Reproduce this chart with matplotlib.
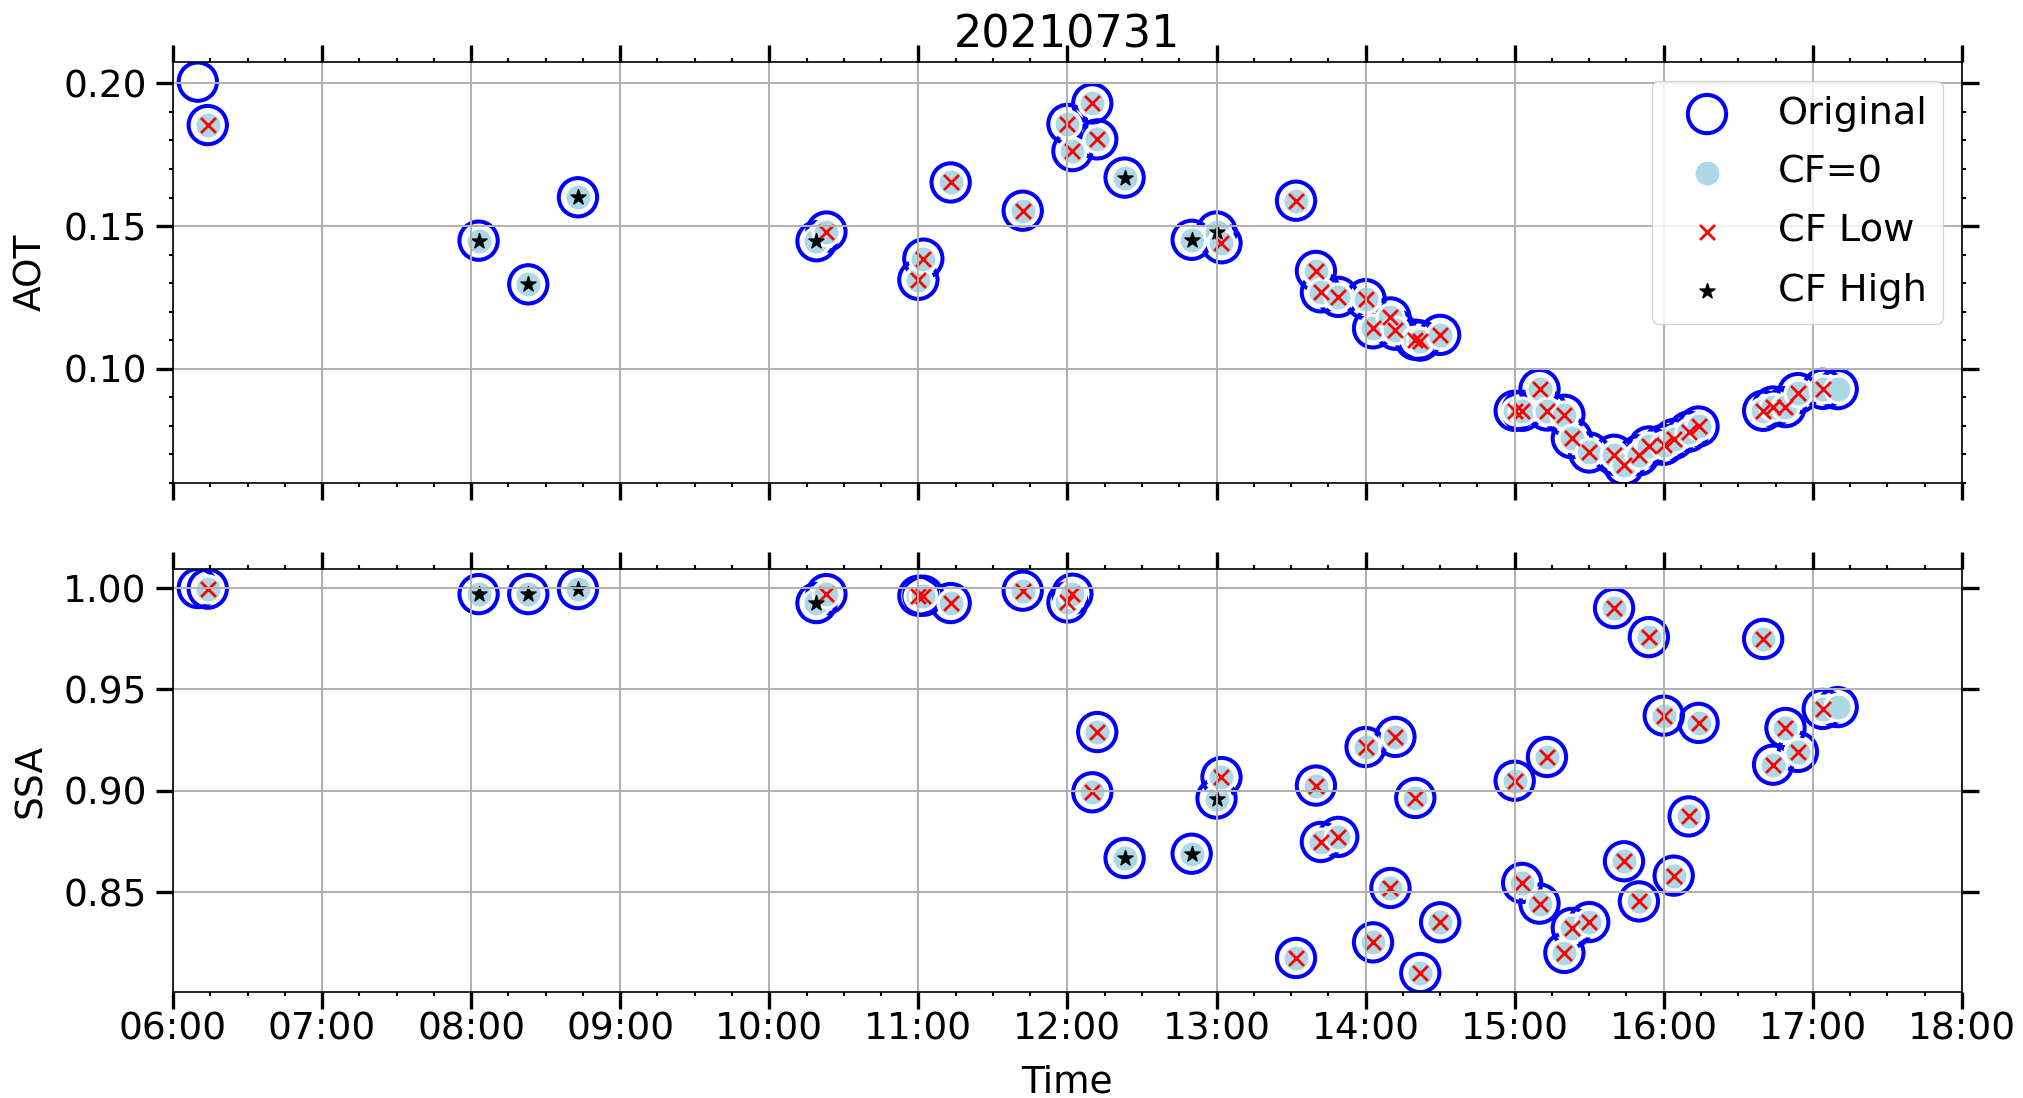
import matplotlib
matplotlib.use("Agg")
import matplotlib.pyplot as plt
import matplotlib.dates as mdates
from matplotlib.ticker import AutoMinorLocator
import numpy as np
import pandas as pd

day = "2021-07-31"

# measurement times (local)
times = ["06:10", "06:14", "08:03", "08:23", "08:43", "10:19", "10:23", "11:00", "11:02", "11:13",
         "11:42", "12:00", "12:02", "12:10", "12:12", "12:23", "12:50", "13:00", "13:02", "13:32",
         "13:40", "13:42", "13:49", "14:00", "14:03", "14:10", "14:12", "14:20", "14:22", "14:30",
         "15:00", "15:03", "15:10", "15:13", "15:20", "15:23", "15:30", "15:40", "15:44", "15:50",
         "15:54", "16:00", "16:04", "16:10", "16:14", "16:40", "16:44", "16:49", "16:54", "17:04",
         "17:10"]

aot = [0.2006, 0.1854, 0.1449, 0.1296, 0.1601, 0.1447, 0.1481, 0.1312, 0.1386, 0.1653,
       0.1554, 0.1858, 0.1763, 0.1930, 0.1804, 0.1670, 0.1452, 0.1481, 0.1440, 0.1589,
       0.1343, 0.1268, 0.1252, 0.1244, 0.1142, 0.1180, 0.1137, 0.1102, 0.1099, 0.1119,
       0.0853, 0.0853, 0.0929, 0.0854, 0.0839, 0.0757, 0.0707, 0.0699, 0.0662, 0.0697,
       0.0728, 0.0734, 0.0754, 0.0780, 0.0798, 0.0853, 0.0868, 0.0866, 0.0915, 0.0930,
       0.0929]

ssa = [1.0000, 0.9997, 0.9970, 0.9970, 0.9995, 0.9926, 0.9970, 0.9962, 0.9962, 0.9926,
       0.9987, 0.9929, 0.9972, 0.8993, 0.9290, 0.8669, 0.8690, 0.8962, 0.9068, 0.8176,
       0.9026, 0.8748, 0.8773, 0.9216, 0.8253, 0.8521, 0.9266, 0.8965, 0.8102, 0.8352,
       0.9050, 0.8546, 0.8444, 0.9167, 0.8201, 0.8324, 0.8353, 0.9901, 0.8653, 0.8455,
       0.9758, 0.9371, 0.8582, 0.8874, 0.9335, 0.9749, 0.9129, 0.9310, 0.9192, 0.9404,
       0.9413]

# cloud flag: "-" none (original only), "0" CF=0 only, "L" CF low, "H" CF high
cf = ["-", "L", "H", "H", "H", "H", "L", "L", "L", "L",
      "L", "L", "L", "L", "L", "H", "H", "H", "L", "L",
      "L", "L", "L", "L", "L", "L", "L", "L", "L", "L",
      "L", "L", "L", "L", "L", "L", "L", "L", "L", "L",
      "L", "L", "L", "L", "L", "L", "L", "L", "L", "L",
      "0"]

t = pd.to_datetime([day + " " + s for s in times])
cf = np.array(cf)
cf0 = cf != "-"
low = cf == "L"
high = cf == "H"

plt.rcParams["font.size"] = 27

fig = plt.figure(figsize=(20.23, 10.98), dpi=100)
ax1 = fig.add_axes([0.0855, 0.5601, 0.8843, 0.3837])
ax2 = fig.add_axes([0.0855, 0.0965, 0.8843, 0.3853], sharex=ax1)


def panel(ax, y):
    y = np.array(y)
    ax.scatter(t, y, s=760, facecolors="none", edgecolors="blue", linewidths=2.9, label="Original")
    ax.scatter(t[cf0], y[cf0], s=377, c="lightblue", edgecolors="white", linewidths=2.2, label="CF=0")
    ax.scatter(t[low], y[low], s=115, c="red", marker="x", linewidths=2.0, label="CF Low")
    ax.scatter(t[high], y[high], s=130, c="black", marker="*", label="CF High")
    ax.grid(True, linewidth=1.4)
    ax.tick_params(which="major", direction="out", length=12, width=2.4,
                   top=True, right=True, labelsize=27)
    ax.tick_params(which="minor", direction="out", length=3, width=1.5, top=True, right=True)
    ax.tick_params(axis="x", which="major", pad=2)
    ax.tick_params(axis="y", which="major", pad=7)
    for sp in ax.spines.values():
        sp.set_linewidth(1.2)


panel(ax1, aot)
panel(ax2, ssa)

ax1.set_xlim(pd.Timestamp(day + " 06:00"), pd.Timestamp(day + " 18:00"))
ax2.xaxis.set_major_locator(mdates.HourLocator())
ax2.xaxis.set_minor_locator(mdates.MinuteLocator(byminute=[15, 30, 45]))
ax2.xaxis.set_major_formatter(mdates.DateFormatter("%H:%M"))
ax1.tick_params(axis="x", labelbottom=False)

ax1.set_ylim(0.060, 0.2076)
ax1.set_yticks([0.10, 0.15, 0.20])
ax1.yaxis.set_minor_locator(AutoMinorLocator(5))
ax2.set_ylim(0.8008, 1.0094)
ax2.set_yticks([0.85, 0.90, 0.95, 1.00])

ax1.set_ylabel("AOT", labelpad=10)
ax2.set_ylabel("SSA", labelpad=10)
ax2.set_xlabel("Time", labelpad=12)
ax1.set_title("20210731", fontsize=32, y=1.0, pad=10)
ax1.legend(loc="upper right", fontsize=27.5, labelspacing=0.6, handlelength=2.1)

fig.savefig("out.png", dpi=100)
